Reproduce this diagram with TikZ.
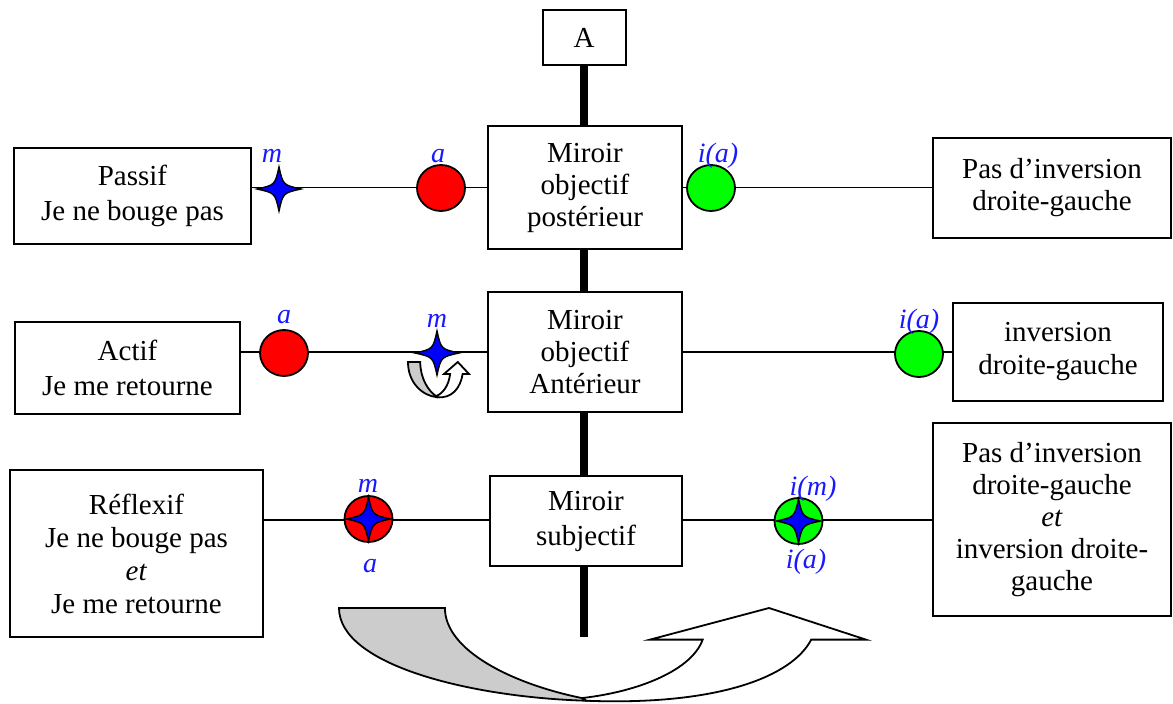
\documentclass[tikz,border=0pt]{standalone}
\usepackage{fontspec}
\setmainfont{Liberation Serif}
\usetikzlibrary{shapes.geometric}
\definecolor{cred}{RGB}{255,0,0}
\definecolor{cgreen}{RGB}{0,255,0}
\definecolor{cblue}{RGB}{0,0,255}
\definecolor{lblue}{RGB}{25,25,255}
\definecolor{cgray}{RGB}{204,204,204}
\tikzset{
  box/.style={draw, line width=2pt, fill=white, align=center, inner sep=0pt,
    font=\fontsize{29}{32}\selectfont},
  lbl/.style={text=lblue, font=\fontsize{28}{30}\selectfont\itshape, inner sep=0pt, anchor=base},
  dot/.style={ellipse, draw, line width=1.8pt, minimum width=48pt, minimum height=46pt, inner sep=0pt},
  conn/.style={line width=1.9pt},
  star4/.pic={\filldraw[fill=cblue, line width=1.4pt]
     (0,-22) .. controls (4,-4) .. (22,0) .. controls (4,4) .. (0,22)
     .. controls (-4,4) .. (-22,0) .. controls (-4,-4) .. (0,-22) -- cycle;},
  arrowline/.style={line width=1.8pt, line join=miter}
}
\newcommand\drawUturn{%
    \filldraw[arrowline, fill=white]
      (0.461,0.948) .. controls (0.57,0.88) and (0.67,0.65) .. (0.69,0.333)
      -- (0.59,0.333) -- (0.816,0) -- (1,0.333) -- (0.896,0.333)
      .. controls (0.86,0.72) and (0.72,1.03) .. (0.469,0.976) -- cycle;
    \filldraw[arrowline, fill=cgray]
      (0,0) -- (0.201,0) .. controls (0.201,0.45) and (0.33,0.8) .. (0.461,0.948)
      -- (0.469,0.976) .. controls (0.25,0.94) and (0,0.6) .. (0,0) -- cycle;
}
\begin{document}
\begin{tikzpicture}[x=1pt,y=-1pt]
\useasboundingbox (0,0) rectangle (1173,704);

% axis
\node[box, minimum width=83pt, minimum height=55pt] (A) at (584,37.5) {A};
\coordinate (axisend) at (584,637);
\draw[line width=8pt] (A.south) -- (axisend);

\coordinate (y3) at (0,520);

% mirror boxes
\node[box, minimum width=194pt, minimum height=123pt] (M1) at (585,187.5) {Miroir\\objectif\\postérieur};
\node[box, minimum width=194pt, minimum height=120pt] (M2) at (585,352) {Miroir\\objectif\\Antérieur};
\node[box, minimum width=192pt, minimum height=90pt, font=\fontsize{29}{35}\selectfont] (M3) at (586,521) {Miroir\\subjectif};

% left boxes
\node[box, minimum width=237pt, minimum height=96pt, font=\fontsize{29}{35}\selectfont] (L1) at (132.5,196) {Passif\\Je ne bouge pas};
\node[box, minimum width=225pt, minimum height=92pt, font=\fontsize{29}{35}\selectfont] (L2) at (127.5,368) {Actif\\Je me retourne};
\node[box, minimum width=253pt, minimum height=167pt, font=\fontsize{29}{33}\selectfont] (L3) at (136.5,553.5) {Réflexif\\Je ne bouge pas\\\textit{et}\\Je me retourne};

% right boxes
\node[box, minimum width=238pt, minimum height=100pt, font=\fontsize{29}{32}\selectfont] (R1) at (1052,188) {Pas d’inversion\\droite-gauche};
\node[box, minimum width=210pt, minimum height=98pt, font=\fontsize{29}{33}\selectfont] (R2) at (1058,352) {inversion\\droite-gauche};
\node[box, minimum width=238pt, minimum height=193pt, font=\fontsize{29}{32}\selectfont] (R3) at (1052,519.5) {Pas d’inversion\\droite-gauche\\\textit{et}\\inversion droite-\\gauche};

\draw[conn] (L1.east |- M1.west) -- (M1.west);
\draw[conn] (M1.east) -- (R1.west |- M1.east);
\draw[conn] (L2.east |- M2.west) -- (M2.west);
\draw[conn] (M2.east) -- (R2.west |- M2.east);
\draw[conn] (L3.east |- y3) -- (M3.west |- y3);
\draw[conn] (M3.east |- y3) -- (R3.west |- y3);

% dots
\node[dot, fill=cred] (d1a) at (441,188) {};
\node[dot, fill=cgreen] (d1i) at (711,188) {};
\node[dot, fill=cred] (d2a) at (284,353) {};
\node[dot, fill=cgreen] (d2i) at (919,354) {};
\node[dot, fill=cred] (d3a) at (368.5,519) {};
\node[dot, fill=cgreen] (d3i) at (798.5,521) {};

% small u-turn arrow
\begin{scope}[shift={(408,362)}, xscale=61, yscale=36]
  \drawUturn
\end{scope}
% big u-turn arrow
\begin{scope}[shift={(339,608)}, xscale=527, yscale=95]
  \drawUturn
\end{scope}

% stars
\pic at (279,189) {star4};
\pic at (437,353) {star4};
\pic at (368.5,519) {star4};
\pic at (798.5,521) {star4};

% labels
\node[lbl] (l1m) at (272,162) {m};
\node[lbl] (l1a) at (438,162) {a};
\node[lbl] (l1i) at (718,162) {i(a)};
\node[lbl] (l2a) at (284,323) {a};
\node[lbl] (l2m) at (437,327) {m};
\node[lbl] (l2i) at (919,328) {i(a)};
\node[lbl] (l3m) at (368,492) {m};
\node[lbl] (l3a) at (370,572) {a};
\node[lbl] (l3im) at (813,495) {i(m)};
\node[lbl] (l3ia) at (806,568) {i(a)};
\end{tikzpicture}
\end{document}
